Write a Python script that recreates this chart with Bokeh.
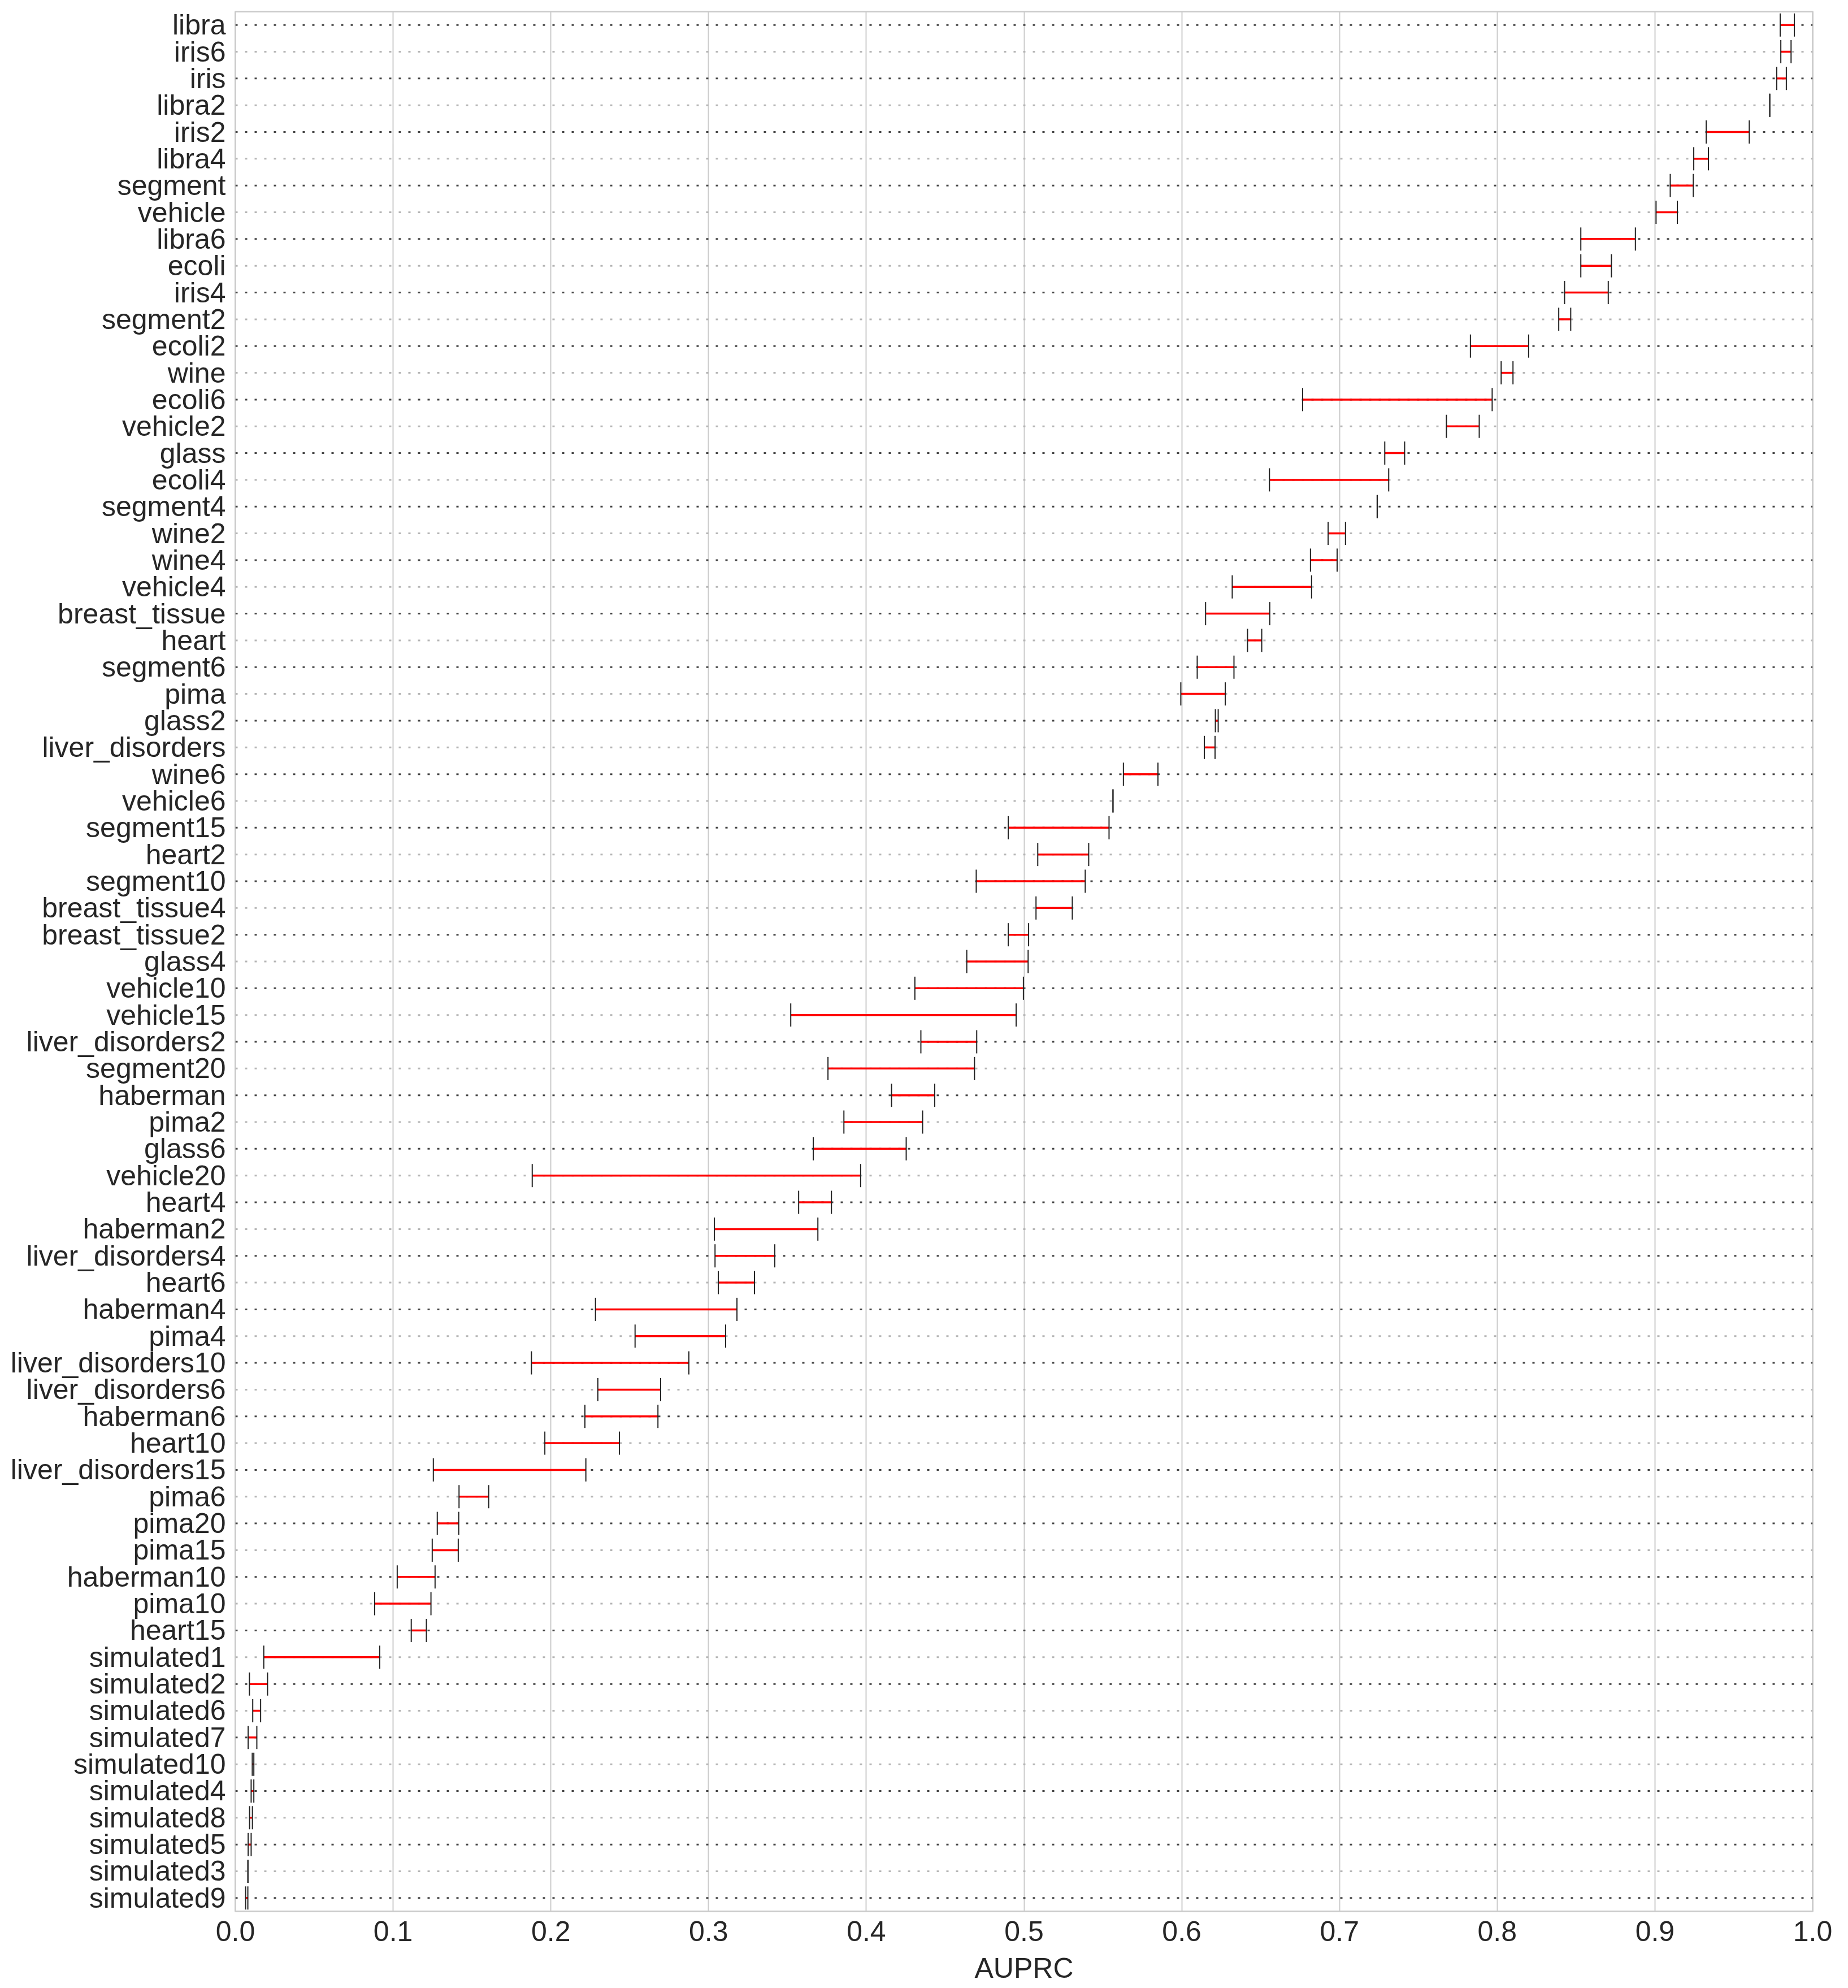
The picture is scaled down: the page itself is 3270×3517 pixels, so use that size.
import math
from bokeh.plotting import figure
from bokeh.models import ColumnDataSource, FactorRange, Range1d, FixedTicker, PrintfTickFormatter
from bokeh.embed import file_html
from bokeh.resources import INLINE

categories = [
    "libra", "iris6", "iris", "libra2", "iris2", "libra4", "segment", "vehicle",
    "libra6", "ecoli", "iris4", "segment2", "ecoli2", "wine", "ecoli6", "vehicle2",
    "glass", "ecoli4", "segment4", "wine2", "wine4", "vehicle4", "breast_tissue",
    "heart", "segment6", "pima", "glass2", "liver_disorders", "wine6", "vehicle6",
    "segment15", "heart2", "segment10", "breast_tissue4", "breast_tissue2", "glass4",
    "vehicle10", "vehicle15", "liver_disorders2", "segment20", "haberman", "pima2",
    "glass6", "vehicle20", "heart4", "haberman2", "liver_disorders4", "heart6",
    "haberman4", "pima4", "liver_disorders10", "liver_disorders6", "haberman6",
    "heart10", "liver_disorders15", "pima6", "pima20", "pima15", "haberman10",
    "pima10", "heart15", "simulated1", "simulated2", "simulated6", "simulated7",
    "simulated10", "simulated4", "simulated8", "simulated5", "simulated3", "simulated9",
]

low = [
    0.9794, 0.9798, 0.9772, 0.9728, 0.9325, 0.9246, 0.9097, 0.9007,
    0.8530, 0.8530, 0.8427, 0.8390, 0.7830, 0.8025, 0.6766, 0.7678,
    0.7287, 0.6556, 0.7239, 0.6928, 0.6816, 0.6320, 0.6151,
    0.6417, 0.6098, 0.5994, 0.6213, 0.6143, 0.5630, 0.5564,
    0.4900, 0.5087, 0.4697, 0.5076, 0.4900, 0.4637,
    0.4308, 0.3521, 0.4346, 0.3757, 0.4160, 0.3858,
    0.3664, 0.1882, 0.3571, 0.3037, 0.3041, 0.3062,
    0.2283, 0.2534, 0.1877, 0.2298, 0.2216,
    0.1962, 0.1255, 0.1418, 0.1280, 0.1248, 0.1026,
    0.0883, 0.1115, 0.0180, 0.0089, 0.0110, 0.0081,
    0.0107, 0.0100, 0.0090, 0.0081, 0.0079, 0.0065,
]

high = [
    0.9884, 0.9863, 0.9833, 0.9728, 0.9598, 0.9339, 0.9243, 0.9142,
    0.8876, 0.8724, 0.8704, 0.8466, 0.8199, 0.8100, 0.7968, 0.7886,
    0.7413, 0.7312, 0.7239, 0.7038, 0.6985, 0.6823, 0.6558,
    0.6507, 0.6331, 0.6276, 0.6231, 0.6211, 0.5849, 0.5564,
    0.5539, 0.5410, 0.5388, 0.5306, 0.5029, 0.5026,
    0.4996, 0.4950, 0.4700, 0.4686, 0.4434, 0.4357,
    0.4253, 0.3964, 0.3779, 0.3693, 0.3420, 0.3291,
    0.3180, 0.3108, 0.2875, 0.2696, 0.2679,
    0.2435, 0.2222, 0.1606, 0.1416, 0.1413, 0.1266,
    0.1240, 0.1211, 0.0915, 0.0204, 0.0160, 0.0136,
    0.0117, 0.0117, 0.0108, 0.0100, 0.0080, 0.0079,
]

x_ticks = [0.0, 0.1, 0.2, 0.3, 0.4, 0.5, 0.6, 0.7, 0.8, 0.9, 1.0]
x_label = "AUPRC"

FONT = "Liberation Sans"
TEXT = "#262626"

p = figure(
    frame_width=2791, frame_height=3361,
    y_range=FactorRange(factors=list(reversed(categories)), range_padding=0),
    x_range=Range1d(0, 1),
    output_backend="svg", toolbar_location=None,
    min_border_left=416, min_border_top=20, min_border_right=50, min_border_bottom=10,
    background_fill_color="white", border_fill_color="white",
)
p.outline_line_color = "#cccccc"
p.outline_line_width = 3

# axes
p.xaxis.ticker = FixedTicker(ticks=x_ticks)
p.xaxis.formatter = PrintfTickFormatter(format="%.1f")
p.xaxis.axis_label = x_label
for ax in (p.xaxis[0], p.yaxis[0]):
    ax.axis_line_color = None
    ax.major_tick_line_color = None
    ax.minor_tick_line_color = None
    ax.major_label_text_font = FONT
    ax.major_label_text_font_size = "50px"
    ax.major_label_text_color = TEXT
    ax.axis_label_text_font = FONT
    ax.axis_label_text_font_size = "50px"
    ax.axis_label_text_font_style = "normal"
    ax.axis_label_text_color = TEXT
p.xaxis.major_label_standoff = 11
p.xaxis.axis_label_standoff = 17
p.yaxis.major_label_standoff = 11

p.xgrid.grid_line_color = "#cccccc"
p.xgrid.grid_line_width = 2
p.ygrid.grid_line_color = None

# dotted row lines, alternating dark / light
dark_rows = categories[0::2]
light_rows = categories[1::2]
p.segment(x0=0, x1=1, y0=dark_rows, y1=dark_rows, line_color="#454545",
          line_width=3, line_dash="4 13", line_cap="butt")
p.segment(x0=0, x1=1, y0=light_rows, y1=light_rows, line_color="#b5b5b5",
          line_width=3, line_dash="4 13", line_cap="butt")

src = ColumnDataSource(dict(cat=categories, low=low, high=high))
p.segment(x0="low", y0="cat", x1="high", y1="cat", source=src,
          line_color="#ff0000", line_width=3.5)
for col in ("low", "high"):
    p.scatter(x=col, y="cat", source=src, marker="dash", size=41, angle=math.pi / 2,
              line_color="#222222", line_width=2, fill_color=None)

open("out.html", "w").write(file_html(p, INLINE))
